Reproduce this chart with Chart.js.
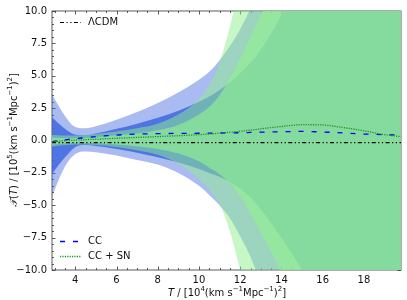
<!DOCTYPE html>
<html><head><meta charset="utf-8">
<script src="https://cdn.jsdelivr.net/npm/chart.js@4.4.1/dist/chart.umd.min.js"></script>
<style>html,body{margin:0;padding:0;background:#fff;}#wrap{width:407px;height:300px;}</style>
</head><body><div id="wrap"><canvas id="c" width="407" height="300"></canvas></div>
<script>
// ---- data ----
const T        = [2.87, 3,    3.5,  4,    4.5,  5,    6,    7,    8,    9,    10,   10.5, 11,   11.5, 12,   12.5, 13,   13.5, 14,   15,   16,   17,   18,   19,   19.8];
const ccMean   = [-0.1, -0.05,0.05, 0.15, 0.22, 0.3,  0.42, 0.5,  0.53, 0.55, 0.56, 0.57, 0.58, 0.59, 0.6,  0.62, 0.64, 0.66, 0.68, 0.7,  0.66, 0.58, 0.5,  0.45, 0.42];
const cc2Up    = [3.6,  3.2,  1.9,  1.05, 0.95, 1.1,  1.6,  2.2,  2.9,  3.7,  4.7,  5.3,  6.2,  7.3,  8.6,  10.2, 12,   14,   16,   20,   24,   28,   32,   36,   40];
const cc2Lo    = [-4.4, -3.8, -2.0, -1.05,-0.85,-0.9, -1.15,-1.5, -1.85,-2.5, -3.5, -4.2, -5.0, -6.0, -7.4, -9.0, -11,  -13,  -15,  -19,  -23,  -27,  -31,  -35,  -39];
const cc1Up    = [1.8,  1.6,  0.9,  0.45, 0.42, 0.55, 0.9,  1.3,  1.75, 2.3,  3.0,  3.4,  3.9,  4.5,  5.2,  6.0,  7.0,  8.3,  9.7,  13,   16,   19,   22,   25,   28];
const cc1Lo    = [-2.6, -2.3, -1.3, -0.5, -0.35,-0.42,-0.65,-0.95,-1.3, -1.7, -2.2, -2.5, -2.8, -3.2, -3.7, -4.4, -5.3, -6.4, -7.5, -10,  -13,  -16,  -19,  -22,  -25];
const snMean   = [-0.1, -0.08,-0.02, 0.03, 0.07, 0.1,  0.17, 0.24, 0.3,  0.37, 0.45, 0.5,  0.57, 0.64, 0.72, 0.8,  0.9,  1.0,  1.08, 1.22, 1.2,  1.0,  0.75, 0.45, 0.3];
const sn2Up    = [0.45, 0.42, 0.38, 0.38, 0.42, 0.5,  0.7,  0.95, 1.3,  2.0,  3.2,  4.3,  6.0,  8.8,  12,   14,   17,   20,   23,   29,   35,   41,   47,   53,   58];
const sn2Lo    = [-0.5, -0.45,-0.35,-0.3, -0.3, -0.35,-0.5, -0.75,-1.1, -1.8, -3.0, -3.8, -4.9, -7.0, -10,  -13,  -16,  -19,  -22,  -28,  -34,  -40,  -46,  -52,  -57];
const sn1Up    = [0.25, 0.22, 0.18, 0.17, 0.2,  0.25, 0.4,  0.55, 0.8,  1.2,  2.0,  2.6,  3.5,  4.8,  6.3,  8.0,  9.8,  12,   14,   18,   22,   26,   30,   34,   37];
const sn1Lo    = [-0.3, -0.28,-0.22,-0.2, -0.2, -0.22,-0.3, -0.45,-0.65,-1.0, -1.6, -2.1, -2.6, -3.3, -4.3, -5.6, -7.1, -8.6, -10.3,-14,  -18,  -22,  -26,  -30,  -33];
const lcdm     = [-0.17,-0.17,-0.17,-0.17,-0.17,-0.17,-0.17,-0.17,-0.17,-0.17,-0.17,-0.17,-0.17,-0.17,-0.17,-0.17,-0.17,-0.17,-0.17,-0.17,-0.17,-0.17,-0.17,-0.17,-0.17];
const xTicks   = [4, 6, 8, 10, 12, 14, 16, 18];
const yTicks   = [-10, -7.5, -5, -2.5, 0, 2.5, 5, 7.5, 10];
const labels   = {lcdm: 'ΛCDM', cc: 'CC', sn: 'CC + SN'};

const pts = arr => T.map((t, i) => ({x: t, y: arr[i]}));
const band = (arr, color, target, order) => ({
  data: pts(arr), backgroundColor: color, borderColor: 'transparent', borderWidth: 0,
  fill: target === null ? false : target, order, pointRadius: 0, cubicInterpolationMode: 'monotone'
});
const line = (arr, color, dash, width, order) => ({
  data: pts(arr), borderColor: color, borderDash: dash, borderWidth: width, fill: false,
  order, pointRadius: 0, cubicInterpolationMode: 'monotone'
});

const B2 = 'rgba(65,105,225,0.45)', B1 = 'rgba(65,105,225,0.85)';
const G2 = 'rgba(144,238,144,0.5)', G1 = 'rgba(144,238,144,0.67)';
const dashCC = [5, 8], dashSN = [1.2, 1.2], dashL = [4, 2.5, 1.2, 2.5, 1.2, 2.5];

const FONT = '"DejaVu Sans", sans-serif';

function drawRich(ctx, segs, cx, cy, size) {
  const f = s => (s.it ? 'italic ' : '') + (s.sup ? size * 0.7 : size) + 'px ' + FONT;
  let w = 0;
  segs.forEach(s => { ctx.font = f(s); w += ctx.measureText(s.t).width; });
  let x = cx - w / 2;
  ctx.textBaseline = 'middle'; ctx.textAlign = 'left';
  segs.forEach(s => { ctx.font = f(s); ctx.fillText(s.t, x, s.sup ? cy - size * 0.38 : cy); x += ctx.measureText(s.t).width; });
}

const decor = {
  id: 'decor',
  beforeDatasetsDraw(chart) {
    const {ctx, chartArea: a, scales: {x, y}} = chart;
    ctx.save();
    ctx.strokeStyle = '#333'; ctx.lineWidth = 0.8;
    ctx.strokeRect(a.left, a.top, a.right - a.left, a.bottom - a.top);
    ctx.beginPath();
    for (let k = 6; k <= 39; k++) {
      const v = k / 2; const major = xTicks.includes(v); const L = major ? 3.5 : 2;
      const px = Math.round(x.getPixelForValue(v)) + 0.5;
      if (px < a.left || px > a.right) continue;
      ctx.moveTo(px, a.bottom); ctx.lineTo(px, a.bottom - L);
      ctx.moveTo(px, a.top); ctx.lineTo(px, a.top + L);
    }
    for (let k = -20; k <= 20; k++) {
      const v = k / 2; const major = yTicks.includes(v); const L = major ? 3.5 : 2;
      const py = Math.round(y.getPixelForValue(v)) + 0.5;
      ctx.moveTo(a.left, py); ctx.lineTo(a.left + L, py);
      ctx.moveTo(a.right, py); ctx.lineTo(a.right - L, py);
    }
    ctx.stroke();
    ctx.restore();
  },
  afterDatasetsDraw(chart) {
    const {ctx} = chart;
    ctx.save();
    const item = (y, color, dash, w, text) => {
      ctx.strokeStyle = color; ctx.lineWidth = w; ctx.setLineDash(dash);
      ctx.beginPath(); ctx.moveTo(60, y); ctx.lineTo(81, y); ctx.stroke();
      ctx.setLineDash([]);
      ctx.fillStyle = '#111'; ctx.font = '10px ' + FONT; ctx.textBaseline = 'middle'; ctx.textAlign = 'left';
      ctx.fillText(text, 88, y);
    };
    item(22.5, '#000', dashL, 1.2, labels.lcdm);
    item(241.5, '#0000ff', dashCC, 1.3, labels.cc);
    item(256.5, '#1f8f1f', dashSN, 1.3, labels.sn);
    ctx.fillStyle = '#111';
    drawRich(ctx, [{t: 'T', it: true}, {t: ' / [10'}, {t: '4', sup: true}, {t: '(km s'}, {t: '−1', sup: true}, {t: 'Mpc'}, {t: '−1', sup: true}, {t: ')'}, {t: '2', sup: true}, {t: ']'}], 227, 293, 10);
    ctx.translate(14, 140); ctx.rotate(-Math.PI / 2);
    drawRich(ctx, [{t: '𝒯', it: true}, {t: '('}, {t: 'T', it: true}, {t: ') / [10'}, {t: '5', sup: true}, {t: '(km s'}, {t: '−1', sup: true}, {t: 'Mpc'}, {t: '−1', sup: true}, {t: ')'}, {t: '2', sup: true}, {t: ']'}], 0, 0, 10);
    ctx.restore();
  }
};

new Chart(document.getElementById('c'), {
  type: 'line',
  data: {
    datasets: [
      band(cc2Up, B2, 1, 10), band(cc2Lo, B2, null, 10),
      band(cc1Up, B1, 3, 9),  band(cc1Lo, B1, null, 9),
      band(sn2Up, G2, 5, 8),  band(sn2Lo, G2, null, 8),
      band(sn1Up, G1, 7, 7),  band(sn1Lo, G1, null, 7),
      line(lcdm, '#000', dashL, 1.2, 3),
      line(ccMean, '#0000ff', dashCC, 1.3, 2),
      line(snMean, '#1f8f1f', dashSN, 1.3, 1)
    ]
  },
  options: {
    responsive: false, animation: false, devicePixelRatio: 1,
    layout: {padding: {left: 0, top: 10, right: 6, bottom: 0}},
    plugins: {legend: {display: false}, tooltip: {enabled: false}},
    scales: {
      x: {
        type: 'linear', min: 2.87, max: 19.8,
        grid: {display: false, drawTicks: false}, border: {display: false},
        afterBuildTicks: s => { s.ticks = xTicks.map(v => ({value: v})); },
        afterFit: s => { s.height = 30; },
        ticks: {padding: 4, color: '#111', font: {family: FONT, size: 10}, maxRotation: 0, autoSkip: false, callback: v => String(v)}
      },
      y: {
        type: 'linear', min: -10, max: 10,
        grid: {display: false, drawTicks: false}, border: {display: false},
        afterBuildTicks: s => { s.ticks = yTicks.map(v => ({value: v})); },
        afterFit: s => { s.width = 52; },
        ticks: {padding: 5, color: '#111', font: {family: FONT, size: 10}, autoSkip: false,
          callback: v => (Math.abs(v) < 1e-9 ? '0.0' : v.toFixed(1).replace('-', '−'))}
      }
    }
  },
  plugins: [decor]
});
</script></body></html>
